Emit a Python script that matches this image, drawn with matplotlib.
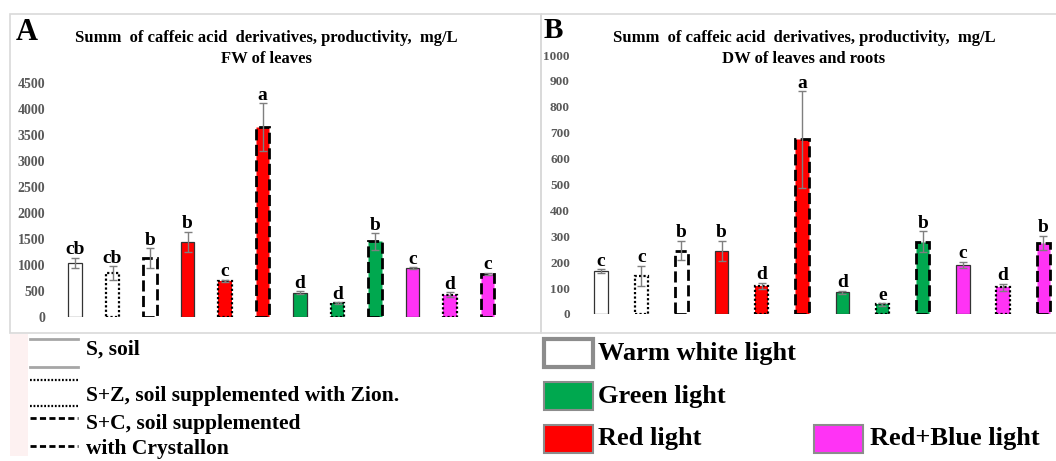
import matplotlib
matplotlib.use("Agg")
import matplotlib.pyplot as plt
from matplotlib.patches import Rectangle
from matplotlib.lines import Line2D

plt.rcParams['font.family'] = ['Liberation Serif', 'DejaVu Serif']
plt.rcParams['font.weight'] = 'bold'

# ---------------- data ----------------
groups = ["S", "S+Z", "S+C"] * 4
light = ["white"] * 3 + ["red"] * 3 + ["green"] * 3 + ["magenta"] * 3

a_values = [1040, 845, 1135, 1445, 690, 3650, 465, 270, 1455, 935, 430, 830]
a_errors = [100, 128, 190, 192, 25, 460, 30, 15, 160, 20, 44, 20]
a_letters = ["cb", "cb", "b", "b", "c", "a", "d", "d", "b", "c", "d", "c"]
a_ticks = [0, 500, 1000, 1500, 2000, 2500, 3000, 3500, 4000, 4500]

b_values = [166, 147, 245, 243, 109, 674, 84, 37, 279, 189, 103, 275]
b_errors = [6, 40, 37, 39, 12, 187, 6, 5, 41, 13, 13, 27]
b_letters = ["c", "c", "b", "b", "d", "a", "d", "e", "b", "c", "d", "b"]
b_ticks = [0, 100, 200, 300, 400, 500, 600, 700, 800, 900, 1000]

title_a = ["Summ  of caffeic acid  derivatives, productivity,  mg/L", "FW of leaves"]
title_b = ["Summ  of caffeic acid  derivatives, productivity,  mg/L", "DW of leaves and roots"]

legend_treat = ["S, soil", "S+Z, soil supplemented with Zion.",
                "S+C, soil supplemented", "with Crystallon"]
legend_light = ["Warm white light", "Green light", "Red light", "Red+Blue light"]

# ---------------- styles ----------------
fill = {"white": "#FFFFFF", "red": "#FF0000", "green": "#00A84F", "magenta": "#FF33F5"}
edge_style = {
    "S": dict(ls="-", lw=0.9, ec="#333333"),
    "S+Z": dict(ls=(0, (1, 1)), lw=1.6, ec="#000000"),
    "S+C": dict(ls=(0, (4, 1.6)), lw=2.0, ec="#000000"),
}
W, H = 1056, 461
fig = plt.figure(figsize=(W / 100, H / 100), dpi=100)


def px_axes(left, right, top, bottom):
    return fig.add_axes([left / W, 1 - bottom / H, (right - left) / W, (bottom - top) / H])


# overlay axes in pixel coordinates for frames / legend
lax = fig.add_axes([0, 0, 1, 1], zorder=0)
lax.set_xlim(0, W)
lax.set_ylim(H, 0)
lax.axis("off")

# panel frames
lax.add_patch(Rectangle((10, 14), 531, 319, fill=False, ec="#d9d9d9", lw=1.2))
lax.add_patch(Rectangle((541, 14), 520, 319, fill=False, ec="#d9d9d9", lw=1.2))
lax.add_patch(Rectangle((10, 334), 18, 122, fc="#fdf1f1", ec="none"))


def draw_panel(ax, values, errors, letters, ticks, ymax, width, xlim, pad, tsize):
    x = list(range(len(values)))
    bars = ax.bar(x, values, width=width, color=[fill[c] for c in light], zorder=2)
    for b, g in zip(bars, groups):
        st = edge_style[g]
        b.set_edgecolor(st["ec"])
        b.set_linewidth(st["lw"])
        b.set_linestyle(st["ls"])
    ax.errorbar(x, values, yerr=errors, fmt="none", ecolor="#7f7f7f",
                elinewidth=1.0, capsize=2.8, capthick=1.0, zorder=3)
    for xi, v, e, t in zip(x, values, errors, letters):
        ax.annotate(t, (xi, v + e), xytext=(0, 2.5), textcoords="offset points",
                    ha="center", va="baseline", fontsize=14, fontweight="bold",
                    annotation_clip=False)
    ax.set_ylim(0, ymax)
    ax.set_xlim(*xlim)
    ax.set_yticks(ticks)
    ax.set_yticklabels([str(t) for t in ticks])
    ax.set_xticks([])
    ax.tick_params(axis="y", length=0, pad=pad, labelsize=tsize, labelcolor="#595959")
    for lab in ax.get_yticklabels():
        lab.set_fontweight("bold")
    for s in ax.spines.values():
        s.set_visible(False)
    ax.patch.set_alpha(0)


axA = px_axes(50, 530, 83, 317)
draw_panel(axA, a_values, a_errors, a_letters, a_ticks, 4500, 0.355,
           (-0.667, 12.133), 3.6, 10)
axB = px_axes(580, 1056, 55, 314)
draw_panel(axB, b_values, b_errors, b_letters, b_ticks, 1000, 0.33,
           (-0.522, 11.316), 7.2, 9.5)

# panel letters and titles
lax.text(16, 40, "A", fontsize=22, fontweight="bold", va="baseline", ha="left")
lax.text(544, 38, "B", fontsize=21, fontweight="bold", va="baseline", ha="left")
for cx, lines in ((266, title_a), (804, title_b)):
    lax.text(cx, 42, lines[0], fontsize=12, fontweight="bold", ha="center", va="baseline")
    lax.text(cx, 63, lines[1], fontsize=12, fontweight="bold", ha="center", va="baseline")

# treatment legend (line samples)
samples = [("-", "#a6a6a6", 2.0, (339, 367)),
           ((0, (0.8, 0.8)), "#000000", 1.6, (380, 406)),
           ((0, (2.2, 1.2)), "#000000", 2.0, (418, 446))]
for ls, col, lw, ys in samples:
    for yy in ys:
        lax.add_line(Line2D([30, 78], [yy, yy], ls=ls, color=col, lw=lw))
for txt, yy in zip(legend_treat, (350, 396, 424, 449)):
    lax.text(86, yy, txt, fontsize=15.5, fontweight="bold", ha="left", va="center")

# light legend (patches)
light_keys = ["white", "green", "red", "magenta"]
light_pos = [(542, 337, 598, 353), (542, 380, 598, 396), (542, 423, 598, 438), (812, 423, 870, 438)]
for key, txt, (px, py, tx, ty) in zip(light_keys, legend_light, light_pos):
    lw = 3.0 if key == "white" else 1.5
    lax.add_patch(Rectangle((px + 1.5, py + 1.5), 49, 28, fc=fill[key], ec="#8c8c8c", lw=lw))
    lax.text(tx, ty, txt, fontsize=19, fontweight="bold", ha="left", va="center")

fig.savefig("out.png", dpi=100)
